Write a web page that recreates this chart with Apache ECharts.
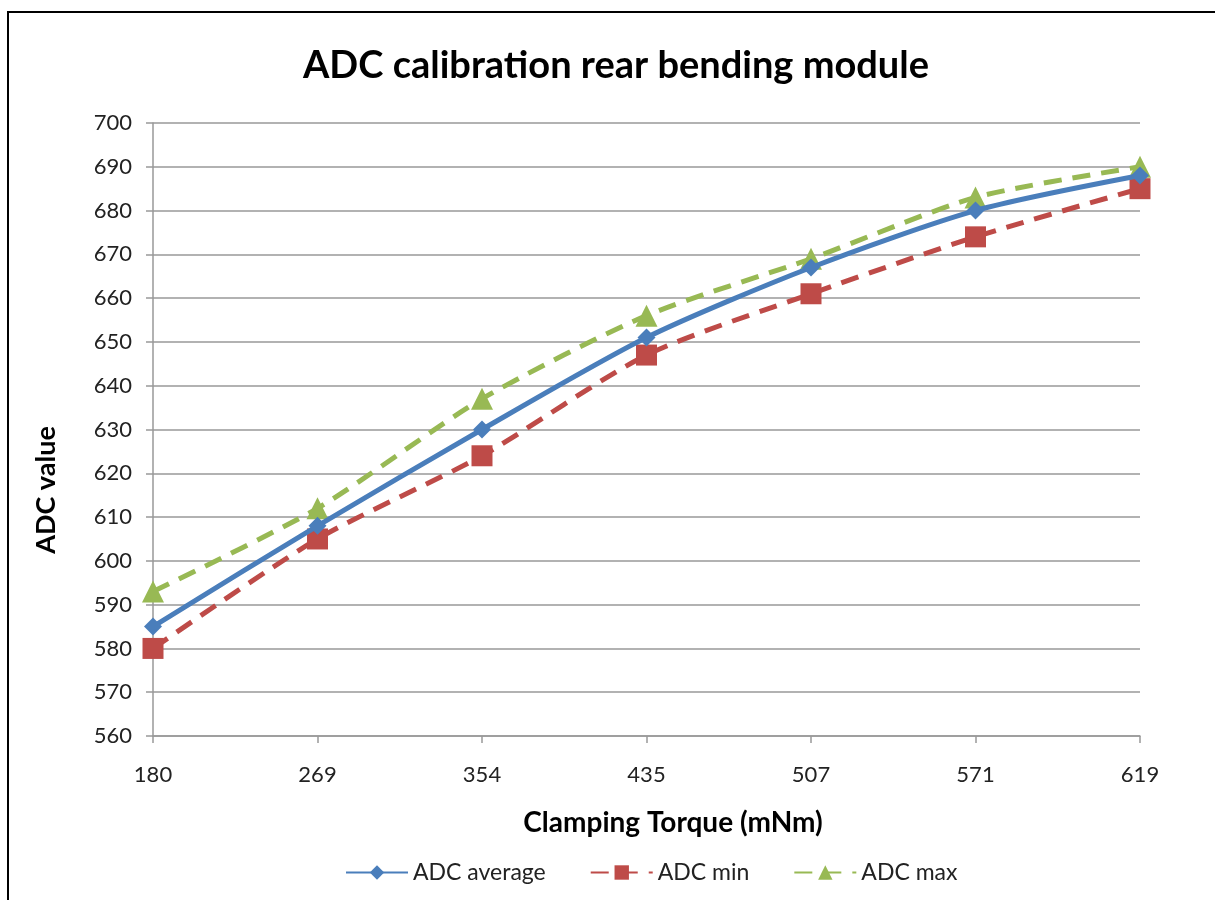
<!DOCTYPE html>
<html><head><meta charset="utf-8">
<script src="https://cdn.jsdelivr.net/npm/echarts@6/dist/echarts.min.js"></script>
<style>
html,body{margin:0;padding:0;background:#fff;overflow:hidden;}
#frame{position:absolute;left:7px;top:11px;width:1220px;height:900px;border:2px solid #000;box-sizing:border-box;}
#c{position:absolute;left:0;top:0;width:1215px;height:900px;}
</style></head>
<body>
<div id="frame"></div>
<div id="c"></div>
<script>
const categories = ['180','269','354','435','507','571','619'];
const adcAverage = [585, 608, 630, 651, 667, 680, 688];
const adcMin = [580, 605, 624, 647, 661, 674, 685];
const adcMax = [593, 612, 637, 656, 669, 683, 690];

const font = 'Lato, "Open Sans", sans-serif';
const chart = echarts.init(document.getElementById('c'));
chart.setOption({
  animation: false,
  graphic: [
    {type: 'text', x: 616, y: 66, style: {text: 'ADC calibration rear bending module', align: 'center', verticalAlign: 'middle',
      font: 'bold 38px ' + font, fill: '#000'}},
    {type: 'text', x: 673, y: 823, style: {text: 'Clamping Torque (mNm)', align: 'center', verticalAlign: 'middle',
      font: 'bold 28px ' + font, fill: '#000'}},
    {type: 'text', x: 46, y: 490, rotation: Math.PI / 2, style: {text: 'ADC value', align: 'center', verticalAlign: 'middle',
      font: 'bold 27px ' + font, fill: '#000'}}
  ],
  grid: {left: 153, right: 75, top: 123, bottom: 164, containLabel: false},
  legend: {
    top: 856, left: 340, itemWidth: 62, itemHeight: 18, itemGap: 44,
    textStyle: {fontFamily: font, fontSize: 23, color: '#222'},
    data: ['ADC average','ADC min','ADC max']
  },
  xAxis: {
    type: 'category', data: categories, boundaryGap: false,
    axisLine: {lineStyle: {color: '#999', width: 1.5}},
    axisTick: {show: true, alignWithLabel: true, length: 7, lineStyle: {color: '#999', width: 1.5}},
    axisLabel: {fontFamily: font, fontSize: 22, color: '#222', margin: 28},
    splitLine: {show: false}
  },
  yAxis: {
    type: 'value', min: 560, max: 700, interval: 10,
    axisLine: {show: true, lineStyle: {color: '#999', width: 1.5}},
    axisTick: {show: true, length: 7, lineStyle: {color: '#999', width: 1.5}},
    axisLabel: {fontFamily: font, fontSize: 22, color: '#222', margin: 21},
    splitLine: {lineStyle: {color: '#999', width: 1.5}}
  },
  series: [
    {name: 'ADC average', type: 'line', data: adcAverage, smooth: 0.25,
     symbol: 'diamond', symbolSize: 18,
     lineStyle: {color: '#4A7EBB', width: 5}, itemStyle: {color: '#4A7EBB'}, z: 3},
    {name: 'ADC min', type: 'line', data: adcMin, smooth: 0.25,
     symbol: 'rect', symbolSize: 21,
     lineStyle: {color: '#BE4B48', width: 5, type: [18, 11]}, itemStyle: {color: '#BE4B48'}, z: 2},
    {name: 'ADC max', type: 'line', data: adcMax, smooth: 0.25,
     symbol: 'triangle', symbolSize: 22,
     lineStyle: {color: '#98B954', width: 5, type: [18, 11]}, itemStyle: {color: '#98B954'}, z: 2}
  ]
});
</script>
</body></html>
